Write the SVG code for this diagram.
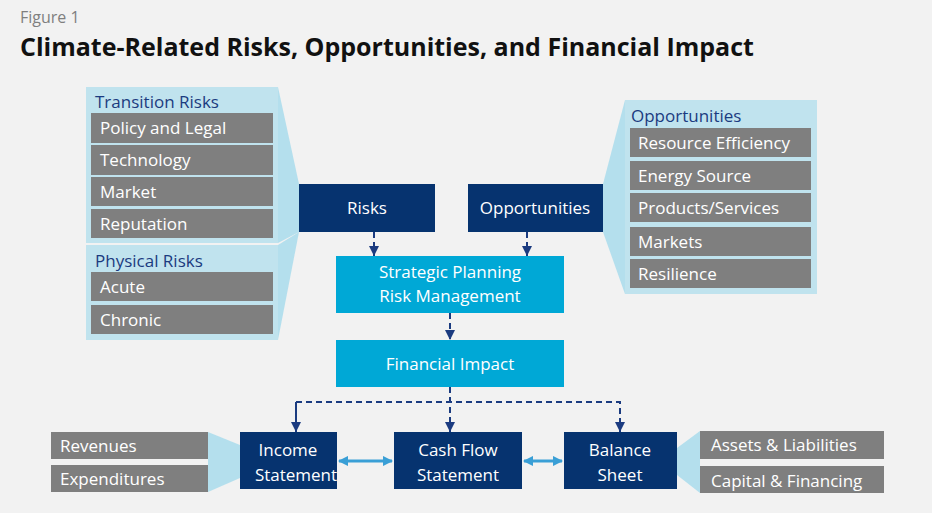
<svg xmlns="http://www.w3.org/2000/svg" width="932" height="513" viewBox="0 0 932 513">
<defs>
<style>
text{font-family:"Open Sans","Noto Sans","Liberation Sans",sans-serif}
.g{fill:#7f7f7f}.gt{fill:#fff;font-size:17px}
.p{fill:#c0e3ee}.fan{fill:#a9dcec;opacity:.85}
.dk{fill:#06336f}.lb{fill:#00a8d6}
.wt{fill:#fff;font-size:17px;text-anchor:middle}
.hd{fill:#1b3b80;font-size:17px}
.dash{stroke:#1b3b80;stroke-width:2;stroke-dasharray:6 4;fill:none}
.dbl{stroke:#3a9fd6;stroke-width:3;fill:none}
</style>
<marker id="ah" viewBox="0 0 10 10" refX="10" refY="5" markerWidth="5" markerHeight="5" orient="auto"><path d="M0,0L10,5L0,10z" fill="#1b3b80"/></marker>
<marker id="bh" viewBox="0 0 10 10" refX="9" refY="5" markerWidth="3.5" markerHeight="3.5" orient="auto-start-reverse"><path d="M0,0L10,5L0,10z" fill="#3a9fd6"/></marker>
</defs>
<rect width="932" height="513" fill="#f2f2f2"/>
<text x="20" y="23" font-size="16" fill="#7f7f7f">Figure 1</text>
<text x="20" y="56" font-size="25" font-weight="bold" fill="#111">Climate-Related Risks, Opportunities, and Financial Impact</text>
<g id="fans">
<polygon class="fan" points="278,87 299,184 299,232 278,243"/>
<polygon class="fan" points="278,245 299,232 278,340"/>
<polygon class="fan" points="603,184 625,100 625,294 603,232"/>
<polygon class="fan" points="208,432 240,445 240,478 208,492"/>
<polygon class="fan" points="700,431 677,448 677,475 700,493"/>
</g>
<g id="transition">
<rect class="p" x="86" y="87" width="192" height="156"/>
<text class="hd" x="95" y="108">Transition Risks</text>
<rect class="g" x="91" y="113" width="182" height="30"/><text class="gt" x="100" y="134">Policy and Legal</text>
<rect class="g" x="91" y="145" width="182" height="30"/><text class="gt" x="100" y="166">Technology</text>
<rect class="g" x="91" y="177" width="182" height="29"/><text class="gt" x="100" y="198">Market</text>
<rect class="g" x="91" y="209" width="182" height="29"/><text class="gt" x="100" y="230">Reputation</text>
</g>
<g id="physical">
<rect class="p" x="86" y="245" width="192" height="95"/>
<text class="hd" x="95" y="267">Physical Risks</text>
<rect class="g" x="91" y="272" width="182" height="29"/><text class="gt" x="100" y="293">Acute</text>
<rect class="g" x="91" y="305" width="182" height="29"/><text class="gt" x="100" y="326">Chronic</text>
</g>
<g id="opps">
<rect class="p" x="625" y="100" width="192" height="194"/>
<text class="hd" x="631" y="122">Opportunities</text>
<rect class="g" x="630" y="128" width="181" height="29"/><text class="gt" x="638" y="149">Resource Efficiency</text>
<rect class="g" x="630" y="161" width="181" height="29"/><text class="gt" x="638" y="182">Energy Source</text>
<rect class="g" x="630" y="193" width="181" height="29"/><text class="gt" x="638" y="214">Products/Services</text>
<rect class="g" x="630" y="227" width="181" height="29"/><text class="gt" x="638" y="248">Markets</text>
<rect class="g" x="630" y="259" width="181" height="29"/><text class="gt" x="638" y="280">Resilience</text>
</g>
<g id="risks"><rect class="dk" x="299" y="184" width="136" height="48"/><text class="wt" x="367" y="214">Risks</text></g>
<g id="opportunities"><rect class="dk" x="468" y="184" width="135" height="48"/><text class="wt" x="535" y="214">Opportunities</text></g>
<g id="strategic"><rect class="lb" x="336" y="256" width="228" height="57"/><text class="wt" x="450" y="278">Strategic Planning</text><text class="wt" x="450" y="302">Risk Management</text></g>
<g id="financial"><rect class="lb" x="336" y="340" width="228" height="47"/><text class="wt" x="450" y="370">Financial Impact</text></g>
<g id="income"><rect class="dk" x="240" y="432" width="97" height="57"/><text class="wt" x="288" y="456">Income</text><text class="wt" x="296" y="481">Statement</text></g>
<g id="cash"><rect class="dk" x="394" y="432" width="128" height="57"/><text class="wt" x="458" y="456">Cash Flow</text><text class="wt" x="458" y="481">Statement</text></g>
<g id="balance"><rect class="dk" x="564" y="432" width="113" height="57"/><text class="wt" x="620" y="456">Balance</text><text class="wt" x="620" y="481">Sheet</text></g>
<g id="leftitems">
<rect class="g" x="51" y="432" width="157" height="27"/><text class="gt" x="60" y="452">Revenues</text>
<rect class="g" x="51" y="465" width="157" height="27"/><text class="gt" x="60" y="485">Expenditures</text>
</g>
<g id="rightitems">
<rect class="g" x="700" y="431" width="184" height="28"/><text class="gt" x="711" y="451">Assets &amp; Liabilities</text>
<rect class="g" x="700" y="466" width="184" height="27"/><text class="gt" x="711" y="487">Capital &amp; Financing</text>
</g>
<g id="connectors">
<path class="dash" d="M374,232V256" marker-end="url(#ah)"/>
<path class="dash" d="M527,232V256" marker-end="url(#ah)"/>
<path class="dash" d="M450,313V340" marker-end="url(#ah)"/>
<path class="dash" d="M450,387V432" marker-end="url(#ah)"/>
<path class="dash" d="M296,432V402H620V432" marker-end="url(#ah)"/>
<path class="dash" d="M296,402V432" marker-end="url(#ah)"/>
<path class="dbl" d="M339,461H392" marker-start="url(#bh)" marker-end="url(#bh)"/>
<path class="dbl" d="M524,461H562" marker-start="url(#bh)" marker-end="url(#bh)"/>
</g>
</svg>
